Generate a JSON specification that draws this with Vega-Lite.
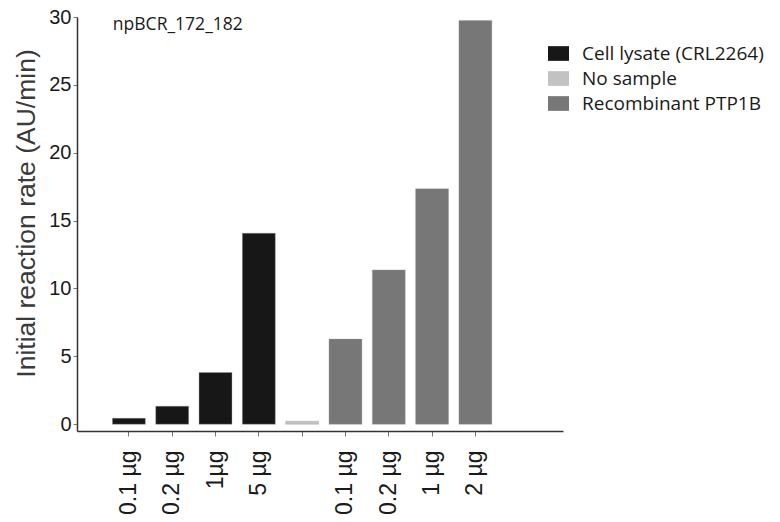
{
  "$schema": "https://vega.github.io/schema/vega-lite/v6.json",
  "width": 486,
  "height": 414,
  "autosize": {"type": "none"},
  "padding": {"left": 77, "top": 17, "right": 217, "bottom": 91},
  "background": "white",
  "config": {"view": {"stroke": null}},
  "datasets": {
    "bars": [
      {"key": "0.1 µg|L", "group": "Cell lysate (CRL2264)", "rate": 0.44},
      {"key": "0.2 µg|L", "group": "Cell lysate (CRL2264)", "rate": 1.33},
      {"key": "1µg|L", "group": "Cell lysate (CRL2264)", "rate": 3.81},
      {"key": "5 µg|L", "group": "Cell lysate (CRL2264)", "rate": 14.07},
      {"key": "|N", "group": "No sample", "rate": 0.22},
      {"key": "0.1 µg|R", "group": "Recombinant PTP1B", "rate": 6.27},
      {"key": "0.2 µg|R", "group": "Recombinant PTP1B", "rate": 11.37},
      {"key": "1 µg|R", "group": "Recombinant PTP1B", "rate": 17.34},
      {"key": "2 µg|R", "group": "Recombinant PTP1B", "rate": 29.74}
    ],
    "note": [{"key": "0.1 µg|L", "rate": 29.4, "text": "npBCR_172_182"}]
  },
  "layer": [
    {
      "data": {"name": "bars"},
      "mark": {"type": "bar", "stroke": "#9a9a9a", "strokeWidth": 0.6, "strokeOpacity": 0.6},
      "encoding": {
        "x": {
          "field": "key",
          "type": "nominal",
          "scale": {
            "domain": ["0.1 µg|L", "0.2 µg|L", "1µg|L", "5 µg|L", "|N", "0.1 µg|R", "0.2 µg|R", "1 µg|R", "2 µg|R", "_pad"],
            "paddingInner": 0.24, "paddingOuter": 0.73, "align": 0.56
          },
          "axis": {
            "title": null,
            "values": ["0.1 µg|L", "0.2 µg|L", "1µg|L", "5 µg|L", "|N", "0.1 µg|R", "0.2 µg|R", "1 µg|R", "2 µg|R"],
            "labelExpr": "split(datum.label, '|')[0]",
            "labelAngle": -90,
            "labelAlign": "right",
            "labelBaseline": "middle",
            "labelFont": "Liberation Sans",
            "labelFontSize": 23,
            "labelColor": "#1a1a1a",
            "labelPadding": 14,
            "tickSize": 5,
            "tickColor": "#777777",
            "domainColor": "#333333",
            "domainWidth": 1.5,
            "grid": false
          }
        },
        "y": {
          "field": "rate",
          "type": "quantitative",
          "scale": {"domain": [-0.5, 30], "nice": false, "zero": false},
          "axis": {
            "title": "Initial reaction rate (AU/min)",
            "titleFont": "Liberation Sans",
            "titleFontSize": 26.5,
            "titleFontWeight": "normal",
            "titleColor": "#3a3a3a",
            "titlePadding": 8,
            "titleY": 196,
            "values": [0, 5, 10, 15, 20, 25, 30],
            "labelFont": "Liberation Sans",
            "labelFontSize": 20,
            "labelColor": "#1a1a1a",
            "labelPadding": 2,
            "tickSize": 4,
            "tickColor": "#777777",
            "domainColor": "#333333",
            "domainWidth": 1.5,
            "grid": false
          }
        },
        "color": {
          "field": "group",
          "type": "nominal",
          "scale": {
            "domain": ["Cell lysate (CRL2264)", "No sample", "Recombinant PTP1B"],
            "range": ["#171717", "#c2c2c2", "#777777"]
          },
          "legend": {
            "title": null,
            "orient": "none",
            "legendX": 471,
            "legendY": 26,
            "symbolType": "M-1,-0.7H1V0.7H-1Z",
            "symbolSize": 441,
            "symbolStrokeWidth": 0,
            "symbolOpacity": 1,
            "labelFont": "Open Sans",
            "labelFontSize": 19,
            "labelColor": "#1a1a1a",
            "labelOffset": 13,
            "labelLimit": 0,
            "rowPadding": 4
          }
        }
      }
    },
    {
      "data": {"name": "note"},
      "mark": {"type": "text", "align": "left", "baseline": "middle", "dx": -16, "font": "Open Sans", "fontSize": 17.5, "color": "#1a1a1a"},
      "encoding": {
        "x": {"field": "key", "type": "nominal"},
        "y": {"field": "rate", "type": "quantitative"},
        "text": {"field": "text"}
      }
    }
  ]
}
